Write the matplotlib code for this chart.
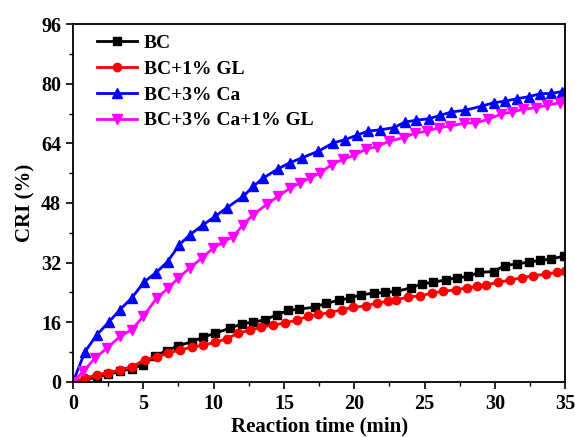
import matplotlib
matplotlib.use('Agg')
import matplotlib.pyplot as plt
from matplotlib.ticker import MultipleLocator

plt.rcParams['font.family'] = ['Liberation Serif', 'DejaVu Serif']
plt.rcParams['font.weight'] = 'bold'

# BC
t_bc = [0, 0.83, 1.68, 2.5, 3.33, 4.17, 5.0, 5.83, 6.66, 7.49, 8.44, 9.27, 10.1, 11.17, 12.0,
        12.8, 13.65, 14.5, 15.3, 16.1, 17.2, 18.0, 18.9, 19.7, 20.5, 21.4, 22.2, 23.0, 24.0,
        24.8, 25.6, 26.5, 27.3, 28.1, 28.9, 29.9, 30.7, 31.6, 32.4, 33.2, 34.0, 34.9, 35.0]
v_bc = [0, 0.5, 1.3, 2.0, 2.8, 3.6, 4.6, 7.0, 8.4, 9.7, 10.8, 12.0, 13.1, 14.4, 15.6,
        16.0, 16.7, 18.0, 19.2, 19.5, 20.1, 21.1, 21.9, 22.5, 23.4, 23.8, 24.0, 24.3, 25.2,
        26.3, 26.7, 27.4, 27.9, 28.3, 29.4, 29.6, 31.2, 31.7, 32.1, 32.6, 33.0, 33.7, 33.8]

# BC+1% GL
t_gl = [0, 0.85, 1.68, 2.5, 3.34, 4.17, 5.12, 5.95, 6.78, 7.6, 8.44, 9.27, 10.1, 10.93, 11.76,
        12.6, 13.4, 14.25, 15.1, 15.9, 16.7, 17.45, 18.3, 19.1, 19.9, 20.8, 21.6, 22.4, 23.0,
        23.85, 24.7, 25.5, 26.3, 27.2, 28.0, 28.7, 29.4, 30.25, 31.1, 31.9, 32.7, 33.6, 34.4, 35.0]
v_gl = [0, 1.0, 1.9, 2.5, 3.2, 4.1, 5.9, 6.8, 7.7, 8.6, 9.3, 9.9, 10.6, 11.6, 13.1,
        13.9, 14.7, 15.3, 15.8, 16.6, 17.6, 18.1, 18.6, 19.4, 20.0, 20.4, 21.1, 21.7, 22.0,
        22.8, 23.1, 23.8, 24.3, 24.7, 25.2, 25.6, 26.1, 26.7, 27.4, 27.9, 28.5, 28.9, 29.4, 29.7]

# BC+3% Ca
t_ca = [0, 0.85, 1.68, 2.58, 3.34, 4.17, 5.05, 5.9, 6.73, 7.56, 8.32, 9.27, 10.1, 10.93, 12.11,
        12.82, 13.53, 14.6, 15.43, 16.27, 17.45, 18.5, 19.35, 20.2, 21.0, 21.8, 22.8, 23.6,
        24.4, 25.3, 26.1, 26.9, 27.9, 29.1, 29.9, 30.7, 31.6, 32.4, 33.2, 34.0, 34.8, 35.0]
v_ca = [0, 8.1, 12.6, 16.2, 19.4, 22.5, 26.8, 29.3, 32.3, 36.8, 39.5, 42.2, 44.4, 46.7, 49.8,
        52.5, 54.7, 57.2, 58.8, 60.1, 61.9, 64.1, 65.0, 66.2, 67.3, 67.6, 68.2, 69.7,
        70.2, 70.6, 71.5, 72.4, 72.9, 74.0, 74.9, 75.3, 76.0, 76.5, 77.3, 77.4, 77.9, 77.8]

# BC+3% Ca+1% GL
t_cagl = [0, 0.73, 1.56, 2.4, 3.34, 4.17, 5.0, 5.95, 6.78, 7.49, 8.32, 9.15, 9.98, 10.7, 11.4,
          12.1, 12.82, 13.77, 14.6, 15.43, 16.14, 16.86, 17.57, 18.4, 19.2, 20.0, 20.8, 21.6,
          22.5, 23.5, 24.3, 25.2, 26.0, 26.8, 27.8, 28.6, 29.5, 30.4, 31.2, 32.0, 32.9, 33.7,
          34.6, 35.0]
v_cagl = [0, 2.8, 6.4, 9.0, 12.2, 14.0, 17.6, 22.5, 25.2, 27.9, 30.6, 33.2, 35.9, 37.6, 39.0,
          42.2, 44.9, 47.6, 49.8, 52.0, 53.4, 54.7, 56.1, 58.3, 59.7, 60.8, 62.4, 63.1,
          64.6, 65.5, 66.7, 67.3, 68.2, 68.6, 69.4, 69.5, 70.4, 71.8, 72.4, 73.1, 73.6, 74.2,
          74.9, 75.0]

fig = plt.figure(figsize=(5.75, 4.37), dpi=100)
ax = fig.add_axes([0.127, 0.126, 0.856, 0.819])

ax.plot(t_bc, v_bc, color='black', marker='s', markersize=5.5, linewidth=2, label='BC')
ax.plot(t_gl, v_gl, color='red', marker='o', markersize=6, linewidth=2, label='BC+1% GL')
ax.plot(t_ca, v_ca, color='blue', marker='^', markersize=6.5, linewidth=2, label='BC+3% Ca')
ax.plot(t_cagl, v_cagl, color='magenta', marker='v', markersize=6.5, linewidth=2,
        label='BC+3% Ca+1% GL')

ax.set_xlim(0, 35)
ax.set_ylim(0, 96)
ax.xaxis.set_major_locator(MultipleLocator(5))
ax.xaxis.set_minor_locator(MultipleLocator(2.5))
ax.yaxis.set_major_locator(MultipleLocator(16))
ax.yaxis.set_minor_locator(MultipleLocator(8))
ax.tick_params(which='major', direction='out', length=5, width=1.2, labelsize=14.5)
ax.tick_params(which='minor', direction='out', length=3, width=1)
for s in ax.spines.values():
    s.set_linewidth(1.3)

ax.set_xlabel('Reaction time (min)', fontsize=15, fontweight='bold', labelpad=2)
ax.set_ylabel('CRI (%)', fontsize=15, fontweight='bold', labelpad=4)

leg = ax.legend(loc='upper left', frameon=False, fontsize=14, handlelength=2.05,
                labelspacing=0.42, borderaxespad=0.6, handletextpad=0.35,
                bbox_to_anchor=(0.01, 1.025))

fig.savefig('out.png', dpi=100)
